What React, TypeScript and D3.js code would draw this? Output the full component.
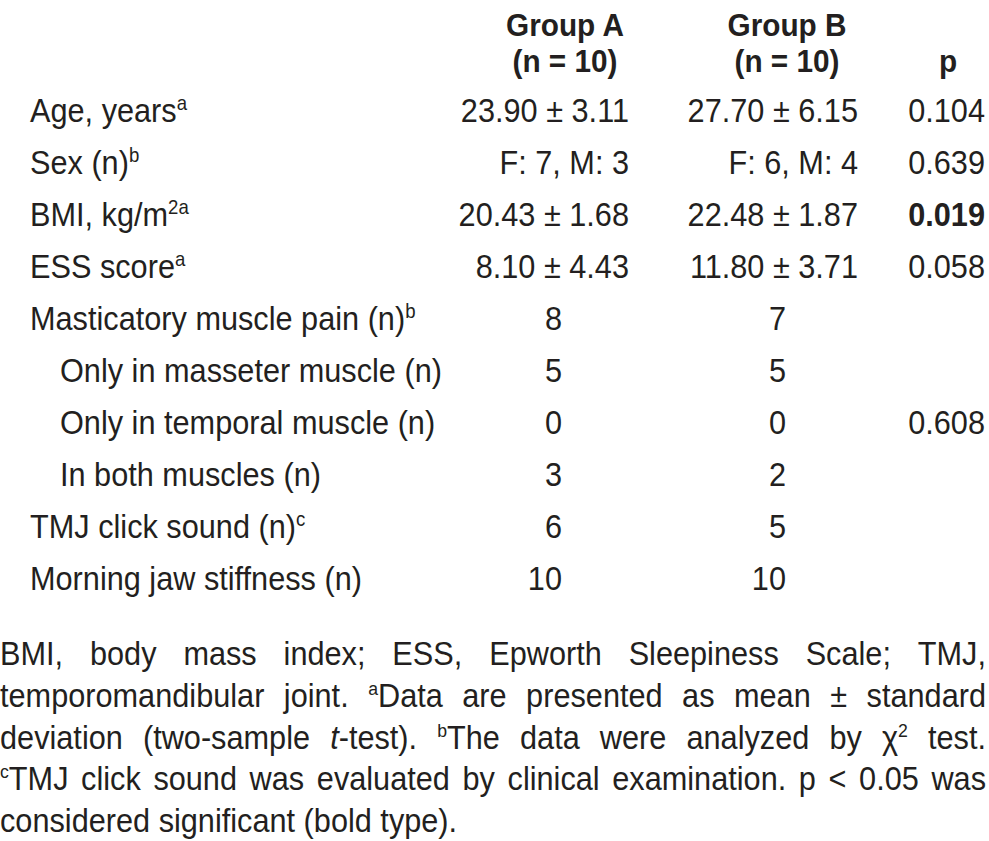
import * as d3 from 'd3';
import { useEffect, useRef } from 'react';

// table content
const rowLabels = [
  'Age, years',
  'Sex (n)',
  'BMI, kg/m',
  'ESS score',
  'Masticatory muscle pain (n)',
  'Only in masseter muscle (n)',
  'Only in temporal muscle (n)',
  'In both muscles (n)',
  'TMJ click sound (n)',
  'Morning jaw stiffness (n)',
];
const rowNotes = ['a', 'b', '2a', 'a', 'b', '', '', '', 'c', ''];
const rowIndent = [0, 0, 0, 0, 0, 1, 1, 1, 0, 0];
const groupA = ['23.90 ± 3.11', 'F: 7, M: 3', '20.43 ± 1.68', '8.10 ± 4.43', '8', '5', '0', '3', '6', '10'];
const groupB = ['27.70 ± 6.15', 'F: 6, M: 4', '22.48 ± 1.87', '11.80 ± 3.71', '7', '5', '0', '2', '5', '10'];
const pValues = ['0.104', '0.639', '0.019', '0.058', '', '', '0.608', '', '', ''];
const pBold = [false, false, true, false, false, false, false, false, false, false];
const headerTop = ['Group A', 'Group B', ''];
const headerBottom = ['(n = 10)', '(n = 10)', 'p'];

// footnote lines: ^x = superscript char, *x* = italic
const footLines = [
  'BMI, body mass index; ESS, Epworth Sleepiness Scale; TMJ,',
  'temporomandibular joint. ^aData are presented as mean ± standard',
  'deviation (two-sample *t*-test). ^bThe data were analyzed by χ^2 test.',
  '^cTMJ click sound was evaluated by clinical examination. p < 0.05 was',
  'considered significant (bold type).',
];

const W = 989;
const H = 841;
const SX = 0.93; // condensed look
const FONT = "'Liberation Sans', Arial, sans-serif";
const INK = '#231f20';

function parseWord(w: string) {
  const segs: { t: string; sup?: boolean; it?: boolean }[] = [];
  const re = /\^(.)|\*([^*]+)\*|([^^*]+)/g;
  let m;
  while ((m = re.exec(w))) {
    if (m[1]) segs.push({ t: m[1], sup: true });
    else if (m[2]) segs.push({ t: m[2], it: true });
    else segs.push({ t: m[3] });
  }
  return segs;
}

export default function App() {
  const ref = useRef<SVGSVGElement>(null);

  useEffect(() => {
    if (!ref.current) return;
    const svg = d3.select(ref.current);
    svg.selectAll('*').remove();
    svg.append('rect').attr('width', W).attr('height', H).attr('fill', '#fff');

    const g = svg
      .append('g')
      .attr('transform', `scale(${SX},1)`)
      .style('font-family', FONT)
      .attr('fill', INK);
    const px = (x: number) => x / SX;

    const y = d3
      .scalePoint<number>()
      .domain(d3.range(rowLabels.length))
      .range([122, 122 + 52 * (rowLabels.length - 1)]);

    // column positions: label start, header centres, value right edges
    const colCenter = d3.scaleOrdinal<number, number>().domain([0, 1, 2]).range([565, 787, 948]);
    const colRight = d3.scaleOrdinal<number, number>().domain([0, 1, 2]).range([629, 858, 985]);
    const countRight = d3.scaleOrdinal<number, number>().domain([0, 1]).range([562, 786]);
    const labelX = d3.scaleOrdinal<number, number>().domain([0, 1]).range([30, 60]);

    // header
    [0, 1, 2].forEach((c) => {
      g.append('text')
        .attr('x', px(colCenter(c)))
        .attr('y', 36)
        .attr('text-anchor', 'middle')
        .attr('font-size', 32)
        .attr('font-weight', 'bold')
        .text(headerTop[c]);
      g.append('text')
        .attr('x', px(colCenter(c)))
        .attr('y', 72)
        .attr('text-anchor', 'middle')
        .attr('font-size', 32)
        .attr('font-weight', 'bold')
        .text(headerBottom[c]);
    });

    // rows
    rowLabels.forEach((label, i) => {
      const t = g
        .append('text')
        .attr('x', px(labelX(rowIndent[i])))
        .attr('y', y(i)!)
        .attr('font-size', 33);
      t.append('tspan').text(label);
      if (rowNotes[i]) {
        t.append('tspan').attr('font-size', 20).attr('dy', -12).text(rowNotes[i]);
      }

      [groupA, groupB].forEach((vals, c) => {
        const v = vals[i];
        const isCount = /^\d+$/.test(v);
        g.append('text')
          .attr('x', px(isCount ? countRight(c) : colRight(c)))
          .attr('y', y(i)!)
          .attr('text-anchor', 'end')
          .attr('font-size', 33)
          .text(v);
      });

      if (pValues[i]) {
        g.append('text')
          .attr('x', px(colRight(2)))
          .attr('y', y(i)!)
          .attr('text-anchor', 'end')
          .attr('font-size', 33)
          .attr('font-weight', pBold[i] ? 'bold' : 'normal')
          .text(pValues[i]);
      }
    });

    // footnote, justified
    const fy = d3
      .scalePoint<number>()
      .domain(d3.range(footLines.length))
      .range([665, 665 + 41.8 * (footLines.length - 1)]);
    const left = 0;
    const right = 986;
    footLines.forEach((line, li) => {
      const words = line.split(' ');
      const nodes = words.map((w) => {
        const t = g.append('text').attr('y', fy(li)!).attr('font-size', 33);
        let prevSup = false;
        parseWord(w).forEach((s) => {
          const ts = t.append('tspan').text(s.t);
          if (s.sup) {
            ts.attr('font-size', 19).attr('dy', -12);
          } else {
            if (s.it) ts.attr('font-style', 'italic');
            // back to the baseline after a superscript
            if (prevSup) ts.attr('dy', 12);
          }
          prevSup = !!s.sup;
        });
        return t;
      });
      const widths = nodes.map((n) => (n.node() as SVGTextElement).getComputedTextLength());
      const total = d3.sum(widths);
      const last = li === footLines.length - 1;
      const spaceW = 33 * 0.278;
      const gap = last ? spaceW : (px(right) - px(left) - total) / (words.length - 1);
      let x = px(left);
      nodes.forEach((n, k) => {
        n.attr('x', x);
        x += widths[k] + gap;
      });
    });
  }, []);

  return (
    <svg
      ref={ref}
      width={W}
      height={H}
      style={{ position: 'absolute', left: 0, top: 0, display: 'block' }}
    />
  );
}
